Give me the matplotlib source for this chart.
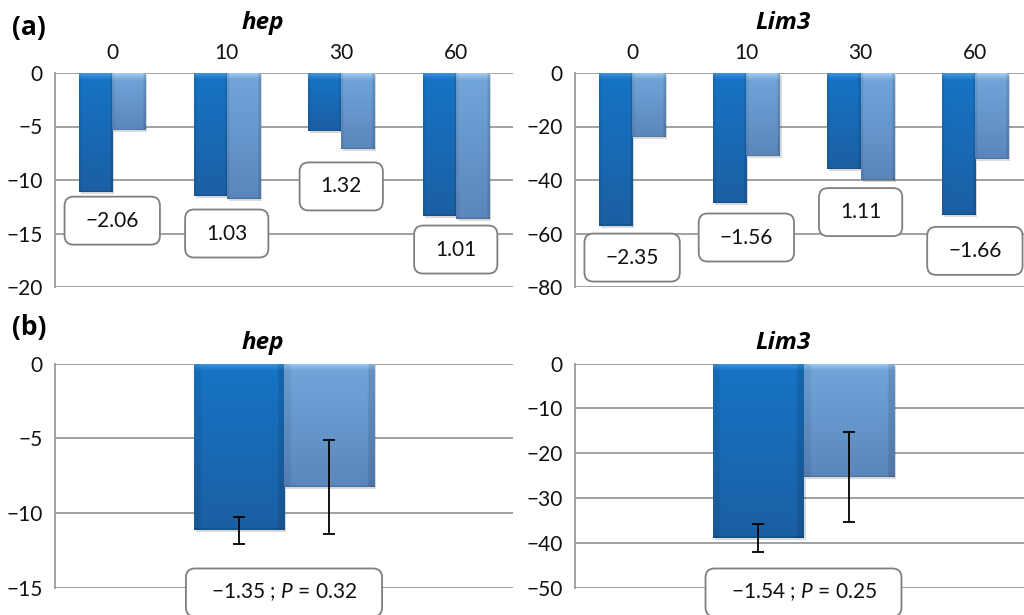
import numpy as np
import matplotlib
matplotlib.use("Agg")
import matplotlib.pyplot as plt
from matplotlib.patches import FancyBboxPatch
from matplotlib.transforms import ScaledTranslation
from matplotlib.colors import to_rgb

plt.rcParams['font.family'] = ['Lato', 'DejaVu Sans']
plt.rcParams['mathtext.fontset'] = 'custom'
plt.rcParams['mathtext.rm'] = 'Lato'
plt.rcParams['mathtext.it'] = 'Lato:italic'

# ---------------- data ----------------
time_labels = ['0', '10', '30', '60']
hep_dark = [-11.1, -11.5, -5.4, -13.4]
hep_light = [-5.3, -11.8, -7.1, -13.6]
hep_ratio = ['\u22122.06', '1.03', '1.32', '1.01']
hep_ratio_y = [-13.8, -15.0, -10.6, -16.5]

lim3_dark = [-57.2, -48.6, -36.0, -53.0]
lim3_light = [-24.0, -31.0, -40.0, -32.0]
lim3_ratio = ['\u22122.35', '\u22121.56', '1.11', '\u22121.66']
lim3_ratio_y = [-69.0, -61.5, -52.0, -66.5]

hep_mean = [-11.15, -8.27]
hep_err = [0.9, 3.15]
hep_summary = '\u22121.35 ; $P$ = 0.32'
hep_summary_y = -15.3

lim3_mean = [-38.8, -25.2]
lim3_err = [3.1, 10.0]
lim3_summary = '\u22121.54 ; $P$ = 0.25'
lim3_summary_y = -51.0

hep_ticks_a = [0, -5, -10, -15, -20]
lim3_ticks_a = [0, -20, -40, -60, -80]
hep_ticks_b = [0, -5, -10, -15]
lim3_ticks_b = [0, -10, -20, -30, -40, -50]

# ---------------- style ----------------
W, H = 1024, 615
DPI = 100
DARK_TOP, DARK_BOT, DARK_HI = '#1674c6', '#1b5fa3', '#4a9be0'
LIGHT_TOP, LIGHT_BOT, LIGHT_HI = '#72a7dc', '#5a86bb', '#a9d0f2'
GRID = '#9a9a9a'
FS = 15
BOLD_FAMILY = ['Open Sans', 'DejaVu Sans']

fig = plt.figure(figsize=(W / DPI, H / DPI), dpi=DPI)


def px_axes(left, top, right, bottom):
    return fig.add_axes([left / W, 1 - bottom / H, (right - left) / W, (bottom - top) / H])


def grad_bars(ax, bars, top_c, bot_c, hi_c):
    n = 200
    t = np.linspace(0, 1, n)[:, None]
    c0, c1, ch = np.array(to_rgb(top_c)), np.array(to_rgb(bot_c)), np.array(to_rgb(hi_c))
    for b in bars:
        x, y = b.get_x(), b.get_y()
        w, h = b.get_width(), b.get_height()
        y0, y1 = min(y, y + h), max(y, y + h)
        p0 = ax.transData.transform((x, y1))
        p1 = ax.transData.transform((x, y0))
        hpx = abs(p1[1] - p0[1])
        frac = min(0.5, 7.0 / max(hpx, 1))
        img = c0 + (c1 - c0) * t
        img = img.reshape(n, 1, 3)
        mask = (t[:, 0] < frac)
        blend = (1 - t[mask, 0] / frac)[:, None] * 0.9
        img[mask, 0, :] = ch * blend + img[mask, 0, :] * (1 - blend)
        img2 = np.repeat(img, 40, axis=1)
        edge = 3
        img2[:, :edge, :] *= 0.93
        img2[:, -edge:, :] *= 0.88
        img2[-2:, :, :] *= 0.85
        ax.imshow(img2, extent=(x, x + w, y0, y1), origin='upper',
                  aspect='auto', zorder=3, interpolation='bilinear')
        b.set_facecolor('none')
        b.set_edgecolor('none')
        shadow = plt.Rectangle((x, y0), w, y1 - y0, facecolor='#000000', alpha=0.15,
                               edgecolor='none', zorder=2,
                               transform=ax.transData + ScaledTranslation(2 / DPI, -2 / DPI, fig.dpi_scale_trans))
        ax.add_patch(shadow)


def style_axis(ax, ticks, ylim, xlim, top_labels=None):
    ax.set_ylim(*ylim)
    ax.set_xlim(*xlim)
    ax.set_yticks(ticks)
    ax.yaxis.grid(True, color=GRID, linewidth=1.3)
    ax.set_axisbelow(True)
    for s in ['top', 'right', 'bottom']:
        ax.spines[s].set_visible(False)
    ax.spines['left'].set_color(GRID)
    ax.spines['left'].set_linewidth(1.3)
    ax.tick_params(axis='y', length=0, pad=9, labelsize=FS, colors='#111111')
    if top_labels is not None:
        ax.xaxis.tick_top()
        ax.set_xticks(range(len(top_labels)))
        ax.set_xticklabels(top_labels)
        ax.tick_params(axis='x', length=0, pad=7, labelsize=FS, colors='#111111')
    else:
        ax.set_xticks([])


def add_box(ax, x, y, label, padx=21, hpx=48):
    t = ax.text(x, y, label, ha='center', va='center', fontsize=FS, zorder=6,
                clip_on=False, color='#111111')
    fig.canvas.draw()
    bb = t.get_window_extent()
    wpx = bb.width + 2 * padx
    trans = fig.dpi_scale_trans + ScaledTranslation(x, y, ax.transData)
    box = FancyBboxPatch((-wpx / 2 / DPI, -hpx / 2 / DPI), wpx / DPI, hpx / DPI,
                         boxstyle='round,pad=0,rounding_size=0.09',
                         facecolor='white', edgecolor='#7f7f7f', linewidth=1.3,
                         transform=trans, zorder=5, clip_on=False)
    ax.add_patch(box)


# ---------------- (a) panels ----------------
xa = np.arange(len(time_labels))
bw = 0.29
for (l, r), dark, light, ratios, ry, ticks, ylim, title, tx in [
        ((55, 513), hep_dark, hep_light, hep_ratio, hep_ratio_y, hep_ticks_a, (-20, 0), 'hep', 263),
        ((575, 1032), lim3_dark, lim3_light, lim3_ratio, lim3_ratio_y, lim3_ticks_a, (-80, 0), 'Lim3', 783)]:
    ax = px_axes(l, 73, r, 287)
    style_axis(ax, ticks, ylim, (-0.5, len(time_labels) - 0.5), time_labels)
    b1 = ax.bar(xa - bw / 2, dark, width=bw, zorder=3)
    b2 = ax.bar(xa + bw / 2, light, width=bw, zorder=3)
    grad_bars(ax, b1, DARK_TOP, DARK_BOT, DARK_HI)
    grad_bars(ax, b2, LIGHT_TOP, LIGHT_BOT, LIGHT_HI)
    ax.set_ylim(*ylim)
    ax.set_xlim(-0.5, len(time_labels) - 0.5)
    for xi, lab, yy in zip(xa, ratios, ry):
        add_box(ax, xi, yy, lab)
    fig.text(tx / W, 1 - 23 / H, title, ha='center', va='center', fontsize=17.5,
             fontweight='bold', fontstyle='italic', family=BOLD_FAMILY)

# ---------------- (b) panels ----------------
bwb = 0.197
for (l, r), means, errs, summ, sy, ticks, ylim, title, tx in [
        ((55, 513), hep_mean, hep_err, hep_summary, hep_summary_y, hep_ticks_b, (-15, 0), 'hep', 263),
        ((575, 1032), lim3_mean, lim3_err, lim3_summary, lim3_summary_y, lim3_ticks_b, (-50, 0), 'Lim3', 783)]:
    ax = px_axes(l, 363.5, r, 588)
    style_axis(ax, ticks, ylim, (-0.5, 0.5))
    pos = np.array([-bwb / 2, bwb / 2])
    b1 = ax.bar(pos[:1], means[:1], width=bwb, zorder=3)
    b2 = ax.bar(pos[1:], means[1:], width=bwb, zorder=3)
    grad_bars(ax, b1, DARK_TOP, DARK_BOT, DARK_HI)
    grad_bars(ax, b2, LIGHT_TOP, LIGHT_BOT, LIGHT_HI)
    ax.errorbar(pos, means, yerr=errs, fmt='none', ecolor='black', elinewidth=1.3,
                capsize=4, capthick=1.3, zorder=7, clip_on=False)
    ax.set_ylim(*ylim)
    ax.set_xlim(-0.5, 0.5)
    add_box(ax, 0, sy, summ, padx=25)
    fig.text(tx / W, 1 - 343 / H, title, ha='center', va='center', fontsize=17.5,
             fontweight='bold', fontstyle='italic', family=BOLD_FAMILY)

fig.text(12 / W, 1 - 28 / H, '(a)', ha='left', va='center', fontsize=19,
         fontweight='bold', family=BOLD_FAMILY)
fig.text(12 / W, 1 - 327 / H, '(b)', ha='left', va='center', fontsize=19,
         fontweight='bold', family=BOLD_FAMILY)

fig.savefig('out.png', dpi=DPI)
